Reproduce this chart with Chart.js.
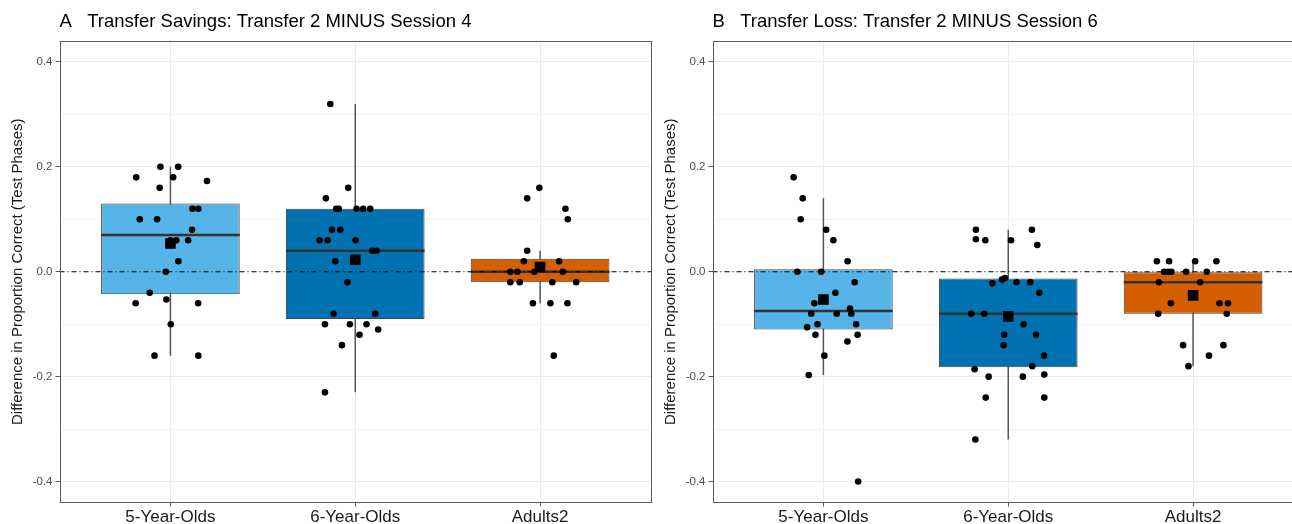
<!DOCTYPE html>
<html lang="en">
<head>
    <meta charset="UTF-8">
    <title>Transfer Savings and Transfer Loss</title>
    <script src="https://cdn.jsdelivr.net/npm/chart.js"></script>
    <style>
        body { margin: 0; width: 1292px; height: 524px; overflow: hidden; background: #fff; position: relative; }
        .panel { position: absolute; top: 0; }
    </style>
</head>
<body>
    <div class="panel" style="left:0px"><canvas id="chartA" width="660" height="524"></canvas></div>
    <div class="panel" style="left:653px"><canvas id="chartB" width="660" height="524"></canvas></div>

    <script>
        // categories and colours
        const groups = ['5-Year-Olds', '6-Year-Olds', 'Adults2'];
        const groupColors = ['#56B4E9', '#0072B2', '#D55E00'];

        // Panel A: Transfer 2 minus Session 4 (raw points + horizontal jitter)
        const a5Values = [0.2, 0.2, 0.18, 0.18, 0.173, 0.16, 0.12, 0.12, 0.1, 0.1, 0.08, 0.06, 0.06, 0.06, 0.02, 0, -0.04, -0.06, -0.053, -0.06, -0.1, -0.16, -0.16];
        const a5Jitter = [-0.054, 0.042, -0.185, 0.015, 0.198, -0.058, 0.119, 0.151, -0.166, -0.072, 0.117, 0.0, 0.032, 0.096, 0.043, -0.025, -0.112, -0.188, -0.022, 0.15, 0.002, -0.086, 0.151];
        const a6Values = [0.32, 0.16, 0.14, 0.12, 0.12, 0.12, 0.12, 0.12, 0.08, 0.08, 0.06, 0.06, 0.06, 0.04, 0.04, 0.02, -0.02, -0.08, -0.08, -0.1, -0.1, -0.1, -0.11, -0.12, -0.14, -0.23];
        const a6Jitter = [-0.135, -0.038, -0.159, -0.103, -0.089, 0.007, 0.043, 0.081, -0.126, -0.081, -0.193, -0.15, 0.002, 0.092, 0.115, -0.108, -0.042, -0.117, 0.108, -0.164, -0.029, 0.061, 0.124, 0.023, -0.072, -0.164];
        const aAdValues = [0.16, 0.14, 0.12, 0.1, 0.04, 0.02, 0.02, 0, 0, 0, 0, -0.02, -0.02, -0.02, -0.02, -0.06, -0.06, -0.06, -0.16];
        const aAdJitter = [-0.004, -0.07, 0.137, 0.15, -0.07, -0.088, 0.103, -0.161, -0.123, -0.031, 0.123, -0.161, -0.11, 0.066, 0.195, -0.039, 0.056, 0.148, 0.074];
        const aLow = [-0.16, -0.23, -0.06];
        const aQ1 = [-0.043, -0.09, -0.02];
        const aMedian = [0.07, 0.04, 0];
        const aQ3 = [0.13, 0.12, 0.025];
        const aHigh = [0.2, 0.32, 0.04];
        const aMean = [0.054, 0.023, 0.009];

        // Panel B: Transfer 2 minus Session 6
        const b5Values = [0.18, 0.14, 0.1, 0.08, 0.06, 0.02, 0, 0, -0.02, -0.04, -0.06, -0.07, -0.08, -0.08, -0.08, -0.1, -0.1, -0.106, -0.12, -0.12, -0.133, -0.16, -0.197, -0.4];
        const b5Jitter = [-0.161, -0.112, -0.123, 0.015, 0.054, 0.131, -0.141, -0.012, 0.169, 0.065, -0.049, 0.144, -0.066, 0.072, 0.151, -0.032, 0.177, -0.088, -0.043, 0.185, 0.13, 0.005, -0.079, 0.188];
        const b6Values = [0.08, 0.08, 0.062, 0.06, 0.06, 0.051, -0.022, -0.015, -0.012, -0.02, -0.02, -0.04, -0.08, -0.08, -0.1, -0.12, -0.12, -0.14, -0.16, -0.18, -0.186, -0.2, -0.2, -0.196, -0.24, -0.24, -0.32];
        const b6Jitter = [-0.175, 0.128, -0.175, -0.124, 0.015, 0.157, -0.086, -0.034, -0.018, 0.045, 0.119, 0.168, -0.2, -0.13, 0.083, -0.022, 0.15, -0.025, 0.193, 0.13, -0.182, -0.106, 0.079, 0.195, -0.122, 0.195, -0.178];
        const bAdValues = [0.02, 0.02, 0.02, 0.02, 0, 0, 0, 0, 0, -0.02, -0.02, -0.06, -0.06, -0.06, -0.08, -0.08, -0.14, -0.14, -0.16, -0.18];
        const bAdJitter = [-0.196, -0.13, 0.011, 0.126, -0.157, -0.135, -0.117, -0.038, 0.074, -0.185, 0.038, -0.12, 0.143, 0.189, -0.189, 0.182, -0.054, 0.164, 0.086, -0.025];
        const bLow = [-0.197, -0.32, -0.18];
        const bQ1 = [-0.11, -0.182, -0.08];
        const bMedian = [-0.075, -0.08, -0.02];
        const bQ3 = [0.005, -0.013, 0];
        const bHigh = [0.14, 0.08, 0.02];
        const bMean = [-0.053, -0.085, -0.045];

        const yTicksMajor = [-0.4, -0.2, 0, 0.2, 0.4];
        const yMin = -0.44, yMax = 0.44;
        const xMin = 0.4, xMax = 3.6;
        const boxWidth = 0.75;

        Chart.defaults.font.family = "'Liberation Sans', Arial, sans-serif";
        Chart.defaults.animation = false;

        function isMajor(v) {
            return yTicksMajor.some(t => Math.abs(t - v) < 1e-6);
        }

        const panelBorder = {
            id: 'panelBorder',
            afterDatasetsDraw(chart) {
                const a = chart.chartArea;
                const ctx = chart.ctx;
                ctx.save();
                ctx.strokeStyle = '#5a5a5a';
                ctx.lineWidth = 1;
                ctx.strokeRect(Math.round(a.left) + 0.5, Math.round(a.top) + 0.5,
                    Math.round(a.right - a.left) - 1, Math.round(a.bottom - a.top) - 1);
                ctx.restore();
            }
        };

        function makePanel(id, title, pts, jit, low, q1, med, q3, high, mean) {
            const points = [];
            pts.forEach((vals, g) => {
                vals.forEach((v, i) => points.push({ x: g + 1 + jit[g][i], y: v }));
            });
            const whiskers = [], medians = [], boxes = [], means = [];
            groups.forEach((name, g) => {
                const c = g + 1;
                whiskers.push({ x: c, y: low[g] }, { x: c, y: high[g] }, { x: c, y: null });
                medians.push({ x: c - boxWidth / 2, y: med[g] }, { x: c + boxWidth / 2, y: med[g] }, { x: c, y: null });
                boxes.push({ x: c, y: [q1[g], q3[g]] });
                means.push({ x: c, y: mean[g] });
            });

            return new Chart(document.getElementById(id), {
                type: 'bar',
                data: {
                    datasets: [
                        {
                            type: 'scatter', label: 'mean', data: means, order: 0,
                            pointStyle: 'rect', pointRadius: 7.5, pointBorderWidth: 0,
                            backgroundColor: '#000', borderColor: '#000'
                        },
                        {
                            type: 'scatter', label: 'points', data: points, order: 1,
                            pointRadius: 3.3, pointBorderWidth: 0,
                            backgroundColor: '#000', borderColor: '#000'
                        },
                        {
                            type: 'line', label: 'zero', order: 2,
                            data: [{ x: xMin, y: 0 }, { x: xMax, y: 0 }],
                            borderColor: '#000', borderWidth: 1, borderDash: [5, 3, 1, 3],
                            pointRadius: 0, fill: false
                        },
                        {
                            type: 'line', label: 'median', data: medians, order: 3,
                            borderColor: '#333', borderWidth: 2.5, pointRadius: 0, spanGaps: false
                        },
                        {
                            type: 'bar', label: 'box', data: boxes, order: 4,
                            backgroundColor: groupColors, borderColor: '#444', borderWidth: 1,
                            borderSkipped: false, categoryPercentage: boxWidth, barPercentage: 1
                        },
                        {
                            type: 'line', label: 'whisker', data: whiskers, order: 5,
                            borderColor: '#555', borderWidth: 1.5, pointRadius: 0, spanGaps: false
                        }
                    ]
                },
                options: {
                    responsive: false,
                    layout: { padding: { right: 9, left: 0, top: 0, bottom: 0 } },
                    plugins: {
                        legend: { display: false },
                        tooltip: { enabled: false },
                        title: {
                            display: true, text: title, align: 'start', fullSize: false,
                            color: '#000', font: { size: 18.5, weight: 'normal' },
                            padding: { top: 11, bottom: 7.8 }
                        }
                    },
                    scales: {
                        x: {
                            type: 'linear', min: xMin, max: xMax, offset: false,
                            afterFit(scale) { scale.height = 21.5; },
                            ticks: {
                                stepSize: 1, includeBounds: false, padding: 1,
                                color: '#1a1a1a', font: { size: 17 },
                                callback: v => groups[Math.round(v) - 1] || ''
                            },
                            grid: { color: '#ebebeb', lineWidth: 1, offset: false, tickLength: 4, tickColor: '#5a5a5a' },
                            border: { display: false }
                        },
                        y: {
                            type: 'linear', min: yMin, max: yMax, beginAtZero: false,
                            afterFit(scale) { scale.width = 59.5; },
                            ticks: {
                                stepSize: 0.1, includeBounds: false, padding: 3,
                                color: '#4d4d4d', font: { size: 11.5 },
                                callback: v => isMajor(v) ? Number(v).toFixed(1) : ''
                            },
                            grid: {
                                color: ctx => ctx.tick && isMajor(ctx.tick.value) ? '#ebebeb' : '#f4f4f4',
                                tickColor: ctx => ctx.tick && isMajor(ctx.tick.value) ? '#5a5a5a' : 'rgba(0,0,0,0)',
                                lineWidth: 1, tickLength: 4
                            },
                            border: { display: false },
                            title: {
                                display: true, text: 'Difference in Proportion Correct (Test Phases)',
                                color: '#1a1a1a', font: { size: 15 }, padding: { top: 8.5, bottom: 0 }
                            }
                        }
                    }
                },
                plugins: [panelBorder]
            });
        }

        makePanel('chartA', 'A   Transfer Savings: Transfer 2 MINUS Session 4',
            [a5Values, a6Values, aAdValues], [a5Jitter, a6Jitter, aAdJitter],
            aLow, aQ1, aMedian, aQ3, aHigh, aMean);
        makePanel('chartB', 'B   Transfer Loss: Transfer 2 MINUS Session 6',
            [b5Values, b6Values, bAdValues], [b5Jitter, b6Jitter, bAdJitter],
            bLow, bQ1, bMedian, bQ3, bHigh, bMean);
    </script>
</body>
</html>
